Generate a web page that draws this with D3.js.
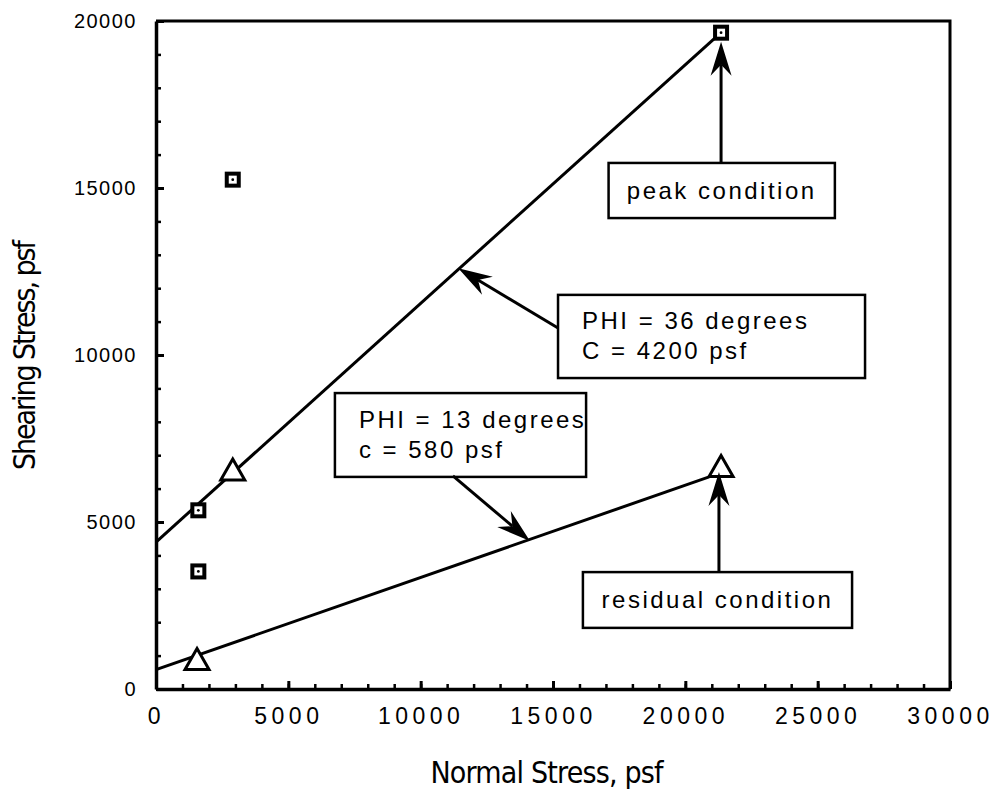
<!DOCTYPE html>
<html>
<head>
<meta charset="utf-8">
<script src="https://cdn.jsdelivr.net/npm/d3@7"></script>
<style>
  body { margin: 0; background: #fff; }
  svg { display: block; }
  .tick text { font-family: "Liberation Sans", Arial, sans-serif; fill: #000; }
</style>
</head>
<body>
<div class="canvas"></div>
<script>
// data (psf)
const squarePts = [[1600, 5350], [1600, 3520], [2900, 15250], [21350, 19650]];
const trianglePts = [[1550, 820], [2900, 6500], [21350, 6600]];
const peakLine = [[0, 4400], [21200, 19550]];
const residualLine = [[0, 580], [20900, 6350]];
const xTicks = [0, 5000, 10000, 15000, 20000, 25000, 30000];
const yTicks = [0, 5000, 10000, 15000, 20000];

// annotation boxes: [x0, y0, x1, y1] in data units, and text lines
const boxes = [
  { rect: [17100, 15750, 25650, 14100], lines: ['peak condition'] },
  { rect: [15190, 11800, 26790, 9310], lines: ['PHI = 36 degrees', 'C = 4200 psf'] },
  { rect: [6760, 8860, 16250, 6350], lines: ['PHI = 13 degrees', 'c = 580 psf'] },
  { rect: [16130, 3500, 26300, 1830], lines: ['residual condition'] }
];
// arrows: from -> tip, data units
const arrows = [
  [[21350, 15750], [21350, 19380]],
  [[15190, 10810], [11420, 12600]],
  [[11220, 6380], [14130, 4430]],
  [[21270, 3500], [21270, 6500]]
];

const width = 996, height = 790;
const svg = d3.select('.canvas')
  .append('svg')
  .attr('width', width)
  .attr('height', height);

const x = d3.scaleLinear().domain([0, 30000]).range([156, 950]);
const y = d3.scaleLinear().domain([0, 20000]).range([689, 21]);

// frame top + right
svg.append('path')
  .attr('d', `M${x(0)},${y(20000)} H${x(30000)} V${y(0)}`)
  .attr('fill', 'none')
  .attr('stroke', '#000')
  .attr('stroke-width', 3);

// minor ticks
const xMinor = d3.axisBottom(x).tickValues(d3.range(0, 30001, 1000)).tickSize(-5).tickSizeOuter(0).tickFormat('');
const yMinor = d3.axisLeft(y).tickValues(d3.range(0, 20001, 1000)).tickSize(-5).tickSizeOuter(0).tickFormat('');
svg.append('g').attr('transform', `translate(0,${y(0)})`).call(xMinor)
  .call(g => g.selectAll('line').attr('stroke-width', 2.5));
svg.append('g').attr('transform', `translate(${x(0)},0)`).call(yMinor)
  .call(g => g.selectAll('line').attr('stroke-width', 2.5));

// major ticks + labels
const xAxis = d3.axisBottom(x).tickValues(xTicks).tickSize(-8).tickSizeOuter(0).tickPadding(19).tickFormat(d3.format('d'));
const yAxis = d3.axisLeft(y).tickValues(yTicks).tickSize(-8).tickSizeOuter(0).tickPadding(19).tickFormat(d3.format('d'));
const xAxisGroup = svg.append('g').attr('transform', `translate(0,${y(0)})`).call(xAxis);
const yAxisGroup = svg.append('g').attr('transform', `translate(${x(0)},0)`).call(yAxis);
[xAxisGroup, yAxisGroup].forEach(g => {
  g.select('.domain').attr('stroke-width', 3.5);
  g.selectAll('line').attr('stroke-width', 3);
});
xAxisGroup.selectAll('text').attr('font-size', 23).attr('letter-spacing', 4.5);
yAxisGroup.selectAll('text').attr('font-size', 20).attr('letter-spacing', 1.5);

// axis titles
const titleFont = '"Liberation Sans Narrow", "DejaVu Sans Condensed", "Arial Narrow", sans-serif';
svg.append('text')
  .attr('x', 547).attr('y', 783)
  .attr('text-anchor', 'middle')
  .attr('font-family', titleFont)
  .attr('font-size', 30)
  .attr('textLength', 233)
  .text('Normal Stress, psf');
svg.append('text')
  .attr('transform', 'translate(35,355) rotate(-90)')
  .attr('text-anchor', 'middle')
  .attr('font-family', titleFont)
  .attr('font-size', 30)
  .attr('textLength', 230)
  .text('Shearing Stress, psf');

// fit lines
const line = d3.line().x(d => x(d[0])).y(d => y(d[1]));
[peakLine, residualLine].forEach(l => {
  svg.append('path')
    .attr('d', line(l))
    .attr('fill', 'none')
    .attr('stroke', '#000')
    .attr('stroke-width', 3);
});

// square markers
const sq = svg.append('g');
sq.selectAll('rect')
  .data(squarePts)
  .enter()
  .append('rect')
  .attr('x', d => x(d[0]) - 6)
  .attr('y', d => y(d[1]) - 6)
  .attr('width', 12).attr('height', 12)
  .attr('fill', '#fff')
  .attr('stroke', '#000')
  .attr('stroke-width', 4);
sq.selectAll('circle')
  .data(squarePts)
  .enter()
  .append('circle')
  .attr('cx', d => x(d[0]))
  .attr('cy', d => y(d[1]))
  .attr('r', 1.4)
  .attr('fill', '#000');

// triangle markers
svg.append('g').selectAll('path')
  .data(trianglePts)
  .enter()
  .append('path')
  .attr('d', d => {
    const cx = x(d[0]), cy = y(d[1]);
    return `M${cx},${cy - 13} L${cx + 12},${cy + 8} L${cx - 12},${cy + 8} Z`;
  })
  .attr('fill', '#fff')
  .attr('stroke', '#000')
  .attr('stroke-width', 3);

// annotation boxes
const boxFont = '"Liberation Sans", Arial, sans-serif';
boxes.forEach(b => {
  const x0 = x(b.rect[0]), y0 = y(b.rect[1]), x1 = x(b.rect[2]), y1 = y(b.rect[3]);
  svg.append('rect')
    .attr('x', x0).attr('y', y0)
    .attr('width', x1 - x0).attr('height', y1 - y0)
    .attr('fill', '#fff')
    .attr('stroke', '#000')
    .attr('stroke-width', 2.5);
  const n = b.lines.length;
  const mid = (y0 + y1) / 2;
  b.lines.forEach((t, i) => {
    svg.append('text')
      .attr('x', n === 1 ? (x0 + x1) / 2 : x0 + 24)
      .attr('y', mid + (i - (n - 1) / 2) * 30 + 8)
      .attr('text-anchor', n === 1 ? 'middle' : 'start')
      .attr('font-family', boxFont)
      .attr('font-size', 24)
      .attr('letter-spacing', 2.5)
      .text(t);
  });
});

// arrows with notched heads
arrows.forEach(a => {
  const p0 = [x(a[0][0]), y(a[0][1])], p1 = [x(a[1][0]), y(a[1][1])];
  const dx = p1[0] - p0[0], dy = p1[1] - p0[1];
  const len = Math.hypot(dx, dy);
  const ux = dx / len, uy = dy / len, nx = -uy, ny = ux;
  const L = 34, W = 10.5, notch = 23;
  const bx = p1[0] - ux * L, by = p1[1] - uy * L;
  const nxp = p1[0] - ux * notch, nyp = p1[1] - uy * notch;
  svg.append('line')
    .attr('x1', p0[0]).attr('y1', p0[1])
    .attr('x2', nxp).attr('y2', nyp)
    .attr('stroke', '#000')
    .attr('stroke-width', 3);
  svg.append('path')
    .attr('d', `M${p1[0]},${p1[1]} L${bx + nx * W},${by + ny * W} L${nxp},${nyp} L${bx - nx * W},${by - ny * W} Z`)
    .attr('fill', '#000');
});
</script>
</body>
</html>
